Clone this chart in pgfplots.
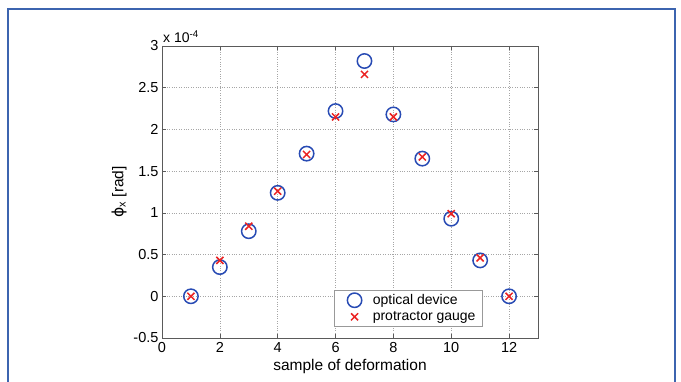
\documentclass[border=0pt]{standalone}
\usepackage{pgfplots}
\pgfplotsset{compat=1.18}
\usepackage{fontspec}
\setmainfont{Liberation Sans}
\newfontfamily\dejavu{DejaVu Sans}
\definecolor{frameblue}{RGB}{60,100,175}
\definecolor{mblue}{RGB}{40,75,180}
\definecolor{mred}{RGB}{235,35,35}
\definecolor{axgray}{RGB}{90,90,90}
\begin{document}
\begin{tikzpicture}[x=1pt,y=1pt]
\useasboundingbox (0,0) rectangle (681,382);
\fill[white] (0,0) rectangle (681,382);
\draw[frameblue,line width=1.8pt] (8,0) -- (8,373) -- (675,373) -- (675,0);
\begin{axis}[
  at={(162pt,44pt)}, anchor=south west,
  scale only axis, width=376pt, height=292pt,
  xmin=0, xmax=13, ymin=-0.5, ymax=3,
  xtick={0,2,4,6,8,10,12},
  ytick={-0.5,0,0.5,1,1.5,2,2.5,3},
  yticklabels={-0.5,0,0.5,1,1.5,2,2.5,3},
  /pgf/number format/assume math mode=true,
  scaled y ticks=false,
  tick align=inside, major tick length=4pt,
  tick style={axgray, line width=0.5pt},
  axis line style={axgray, line width=0.8pt},
  grid=major,
  major grid style={dotted, gray!70, line width=0.6pt},
  ticklabel style={font=\fontsize{14.5}{16}\selectfont},
  xticklabel style={yshift=-1pt},
  xlabel={sample of deformation},
  ylabel={{\dejavu ϕ}\textsubscript{x} [rad]},
  label style={font=\fontsize{15.5}{17}\selectfont},
  xlabel style={yshift=0pt},
  ylabel style={yshift=0pt},
  legend style={at={(0.853,0.04)}, anchor=south east, draw=gray!80, fill=white,
    font=\fontsize{14}{16}\selectfont, row sep=1.5pt, inner xsep=3pt, inner ysep=2pt,
    legend cell align=left, nodes={inner xsep=4pt}},
  legend image code/.code={\path[draw=none,fill=none] (0,0) -- (1.1cm,0); \draw[#1] plot coordinates {(0.6cm,0cm)};},
  clip=false,
]
\addplot[only marks, mark=o, mark size=7.2pt, mark options={mblue, line width=1.5pt}]
 coordinates {(1,0) (2,0.35) (3,0.78) (4,1.24) (5,1.71) (6,2.22) (7,2.82) (8,2.18) (9,1.65) (10,0.93) (11,0.43) (12,0)};
\addlegendentry{optical device}
\addplot[only marks, mark=x, mark size=5pt, mark options={mred, line width=1.5pt}]
 coordinates {(1,0) (2,0.43) (3,0.84) (4,1.26) (5,1.70) (6,2.15) (7,2.66) (8,2.15) (9,1.67) (10,0.99) (11,0.46) (12,0)};
\addlegendentry{protractor gauge}
\node[anchor=south west, inner sep=0pt, font=\fontsize{14}{16}\selectfont] at (rel axis cs:0,1) [yshift=3pt,xshift=1pt] {x 10\textsuperscript{-4}};
\end{axis}
\end{tikzpicture}
\end{document}
